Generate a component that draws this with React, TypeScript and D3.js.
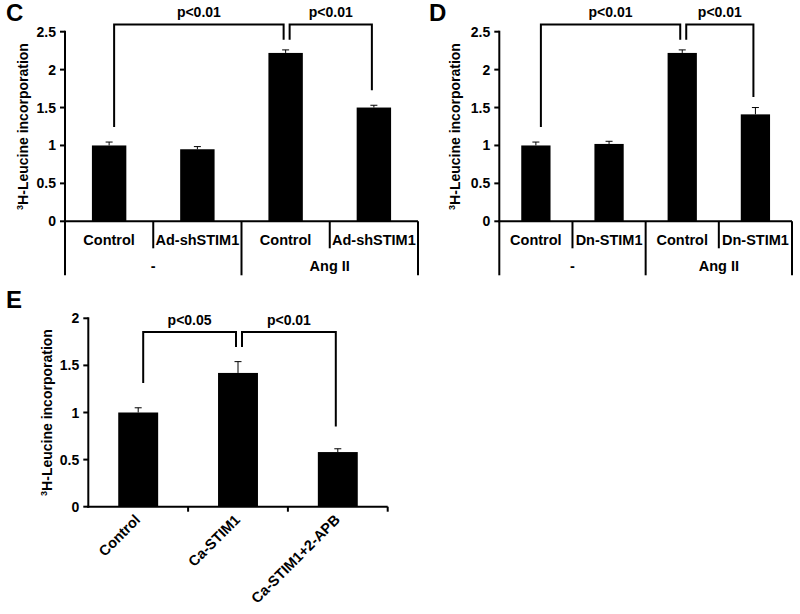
import React from "react";
import * as d3 from "d3";

// ---------- data ----------
const catsC = ["Control", "Ad-shSTIM1", "Control", "Ad-shSTIM1"];
const valsC = [1.0, 0.95, 2.22, 1.5];
const errC = [0.045, 0.035, 0.04, 0.03];
const groupsC = ["-", "Ang II"];

const catsD = ["Control", "Dn-STIM1", "Control", "Dn-STIM1"];
const valsD = [1.0, 1.02, 2.22, 1.41];
const errD = [0.045, 0.035, 0.04, 0.09];
const groupsD = ["-", "Ang II"];

const catsE = ["Control", "Ca-STIM1", "Ca-STIM1+2-APB"];
const valsE = [1.0, 1.42, 0.58];
const errE = [0.05, 0.12, 0.035];

const ticksCD = [0, 0.5, 1, 1.5, 2, 2.5];
const ticksE = [0, 0.5, 1, 1.5, 2];

// brackets: [fromIndex, toIndex, topValue, leftLegBottom, rightLegBottom, label]
const bracketsC: [number, number, number, number, number, string][] = [
  [0, 2, 2.596, 1.245, 2.394, "p<0.01"],
  [2, 3, 2.596, 2.394, 1.728, "p<0.01"],
];
const bracketsD: [number, number, number, number, number, string][] = [
  [0, 2, 2.596, 1.245, 2.394, "p<0.01"],
  [2, 3, 2.596, 2.394, 1.64, "p<0.01"],
];
const bracketsE: [number, number, number, number, number, string][] = [
  [0, 1, 1.855, 1.313, 1.696, "p<0.05"],
  [1, 2, 1.855, 1.696, 0.851, "p<0.01"],
];

const FONT = "'Liberation Sans', Arial, Helvetica, sans-serif";

type PanelProps = {
  letter: string;
  letterX: number;
  letterY: number;
  cats: string[];
  vals: number[];
  errs: number[];
  groups?: string[];
  ticks: number[];
  yMax: number;
  x0: number;
  x1: number;
  yBottom: number;
  yTop: number;
  pad: number;
  brackets: [number, number, number, number, number, string][];
  titleX: number;
};

function Panel(p: PanelProps) {
  const x = d3
    .scaleBand<number>()
    .domain(p.cats.map((_, i) => i))
    .range([p.x0, p.x1])
    .paddingInner(p.pad)
    .paddingOuter(p.pad / 2);
  const y = d3.scaleLinear().domain([0, p.yMax]).range([p.yBottom, p.yTop]);
  const step = x.step();
  const bw = x.bandwidth();
  const cx = (i: number) => (x(i) as number) + bw / 2;
  const boundary = (i: number) => p.x0 + step * i;
  const y0 = y(0);
  const row1 = y0 + 27;
  const row2 = y0 + 54;
  const midY = (p.yBottom + p.yTop) / 2;

  return (
    <g fontFamily={FONT} fontWeight="bold" fill="#000">
      <text x={p.letterX} y={p.letterY} fontSize={24}>
        {p.letter}
      </text>
      {/* y axis title */}
      <text
        transform={`translate(${p.titleX},${midY}) rotate(-90)`}
        textAnchor="middle"
        fontSize={14}
      >
        <tspan fontSize={9} dy={-5}>3</tspan>
        <tspan dy={5}>H-Leucine incorporation</tspan>
      </text>
      {/* y ticks */}
      {p.ticks.map((t) => (
        <g key={t}>
          <line x1={p.x0 - 5} x2={p.x0} y1={y(t)} y2={y(t)} stroke="#000" strokeWidth={2} />
          <text x={p.x0 - 9} y={y(t) + 5} textAnchor="end" fontSize={14}>
            {t}
          </text>
        </g>
      ))}
      {/* bars */}
      {p.vals.map((v, i) => (
        <g key={i}>
          <rect x={x(i)} y={y(v)} width={bw} height={y0 - y(v)} fill="#000" />
          <line x1={cx(i)} x2={cx(i)} y1={y(v)} y2={y(v + p.errs[i])} stroke="#000" strokeWidth={1} />
          <line x1={cx(i) - 3.5} x2={cx(i) + 3.5} y1={y(v + p.errs[i])} y2={y(v + p.errs[i])} stroke="#000" strokeWidth={1} />
        </g>
      ))}
      {/* axes */}
      <line
        x1={p.x0}
        x2={p.x0}
        y1={p.yTop - 1}
        y2={p.groups ? row2 : y0 + 1}
        stroke="#000"
        strokeWidth={2}
      />
      <line x1={p.x0 - 1} x2={p.x1} y1={y0} y2={y0} stroke="#000" strokeWidth={2} />
      {p.groups ? (
        <g>
          {p.cats.map((_, i) => {
            const bx = boundary(i + 1);
            const long = (i + 1) % 2 === 0;
            return (
              <line key={i} x1={bx} x2={bx} y1={y0} y2={long ? row2 : row1} stroke="#000" strokeWidth={2} />
            );
          })}
          {p.cats.map((c, i) => (
            <text key={i} x={cx(i)} y={y0 + 24} textAnchor="middle" fontSize={14.5}>
              {c}
            </text>
          ))}
          {p.groups.map((g, gi) => (
            <text
              key={gi}
              x={(boundary(gi * 2) + boundary(gi * 2 + 2)) / 2}
              y={y0 + 50}
              textAnchor="middle"
              fontSize={14.5}
            >
              {g}
            </text>
          ))}
        </g>
      ) : (
        <g>
          {p.cats.map((_, i) => (
            <line
              key={i}
              x1={boundary(i + 1)}
              x2={boundary(i + 1)}
              y1={y0}
              y2={y0 + 5}
              stroke="#000"
              strokeWidth={2}
            />
          ))}
          {p.cats.map((c, i) => (
            <text
              key={i}
              transform={`translate(${cx(i) + 3},${y0 + 14}) rotate(-45)`}
              textAnchor="end"
              fontSize={14.5}
            >
              {c}
            </text>
          ))}
        </g>
      )}
      {/* brackets */}
      {p.brackets.map(([a, b, top, lb, rb, label], k) => {
        const xl = cx(a) + (k === 0 ? 5 : 4);
        const xr = cx(b) - 2;
        return (
          <g key={k}>
            <path
              d={`M${xl},${y(lb)}V${y(top)}H${xr}V${y(rb)}`}
              fill="none"
              stroke="#000"
              strokeWidth={2}
            />
            <text x={(xl + xr) / 2} y={y(top) - 7} textAnchor="middle" fontSize={14}>
              {label}
            </text>
          </g>
        );
      })}
    </g>
  );
}

export default function App() {
  return (
    <svg
      width={800}
      height={614}
      style={{ position: "absolute", left: 0, top: 0, background: "#fff" }}
    >
      <rect width={800} height={614} fill="#fff" />
      <Panel
        letter="C"
        letterX={6}
        letterY={21}
        cats={catsC}
        vals={valsC}
        errs={errC}
        groups={groupsC}
        ticks={ticksCD}
        yMax={2.5}
        x0={65}
        x1={418}
        yBottom={221.3}
        yTop={31.7}
        pad={0.61}
        brackets={bracketsC}
        titleX={28}
      />
      <Panel
        letter="D"
        letterX={429}
        letterY={21}
        cats={catsD}
        vals={valsD}
        errs={errD}
        groups={groupsD}
        ticks={ticksCD}
        yMax={2.5}
        x0={499.3}
        x1={792}
        yBottom={221.3}
        yTop={31.7}
        pad={0.6}
        brackets={bracketsD}
        titleX={460}
      />
      <Panel
        letter="E"
        letterX={6}
        letterY={308}
        cats={catsE}
        vals={valsE}
        errs={errE}
        ticks={ticksE}
        yMax={2}
        x0={88.3}
        x1={387.7}
        yBottom={506.7}
        yTop={318.3}
        pad={0.6}
        brackets={bracketsE}
        titleX={51.5}
      />
    </svg>
  );
}
